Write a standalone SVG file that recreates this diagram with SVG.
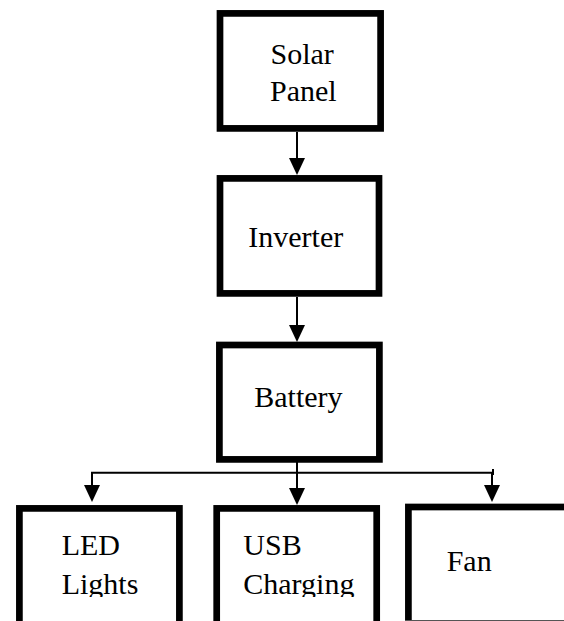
<svg xmlns="http://www.w3.org/2000/svg" width="564" height="621" viewBox="0 0 564 621">
  <style>
    .box { fill: #ffffff; stroke: #000000; stroke-width: 6.7; }
    .lbl { font-family: "Liberation Serif", "DejaVu Serif", serif; font-size: 30px; fill: #000000; }
    .wire { fill: none; stroke: #000000; stroke-width: 2; }
  </style>
  <defs>
    <marker id="arrow" markerUnits="userSpaceOnUse" markerWidth="16" markerHeight="17" viewBox="0 0 16 17" refX="8" refY="17" orient="auto-start-reverse">
      <path d="M0,0 L16,0 L8,17 Z" fill="#000000"/>
    </marker>
    <clipPath id="clipText">
      <rect x="0" y="0" width="564" height="597"/>
    </clipPath>
  </defs>
  <rect x="0" y="0" width="564" height="621" fill="#ffffff"/>

  <g id="connectors">
    <line class="wire" x1="297" y1="132" x2="297" y2="158"/>
    <path d="M289,158 L305,158 L297,175 Z" fill="#000000"/>
    <line class="wire" x1="297" y1="297" x2="297" y2="325"/>
    <path d="M289,325 L305,325 L297,342 Z" fill="#000000"/>
    <line class="wire" x1="297" y1="462" x2="297" y2="488"/>
    <path d="M289,488 L305,488 L297,505 Z" fill="#000000"/>
    <polyline class="wire" points="92,486 92,472.7 493,472.7"/>
    <path d="M84,485 L100,485 L92,502 Z" fill="#000000"/>
    <line class="wire" x1="492" y1="472" x2="492" y2="485"/>
    <line class="wire" x1="493" y1="469" x2="493" y2="475"/>
    <path d="M484,485 L500,485 L492,502 Z" fill="#000000"/>
  </g>

  <g id="node-solar">
    <rect class="box" x="220" y="13.4" width="160.6" height="115"/>
    <text class="lbl" x="270.5" y="63.5">Solar</text>
    <text class="lbl" x="270" y="100.7">Panel</text>
  </g>

  <g id="node-inverter">
    <rect class="box" x="220" y="178.4" width="159" height="115"/>
    <text class="lbl" x="248.3" y="246.7">Inverter</text>
  </g>

  <g id="node-battery">
    <rect class="box" x="219.4" y="345" width="160" height="114.4"/>
    <text class="lbl" x="254.3" y="407.3">Battery</text>
  </g>

  <g id="node-led">
    <rect class="box" x="19.4" y="508.4" width="160" height="200"/>
    <g clip-path="url(#clipText)">
      <text class="lbl" x="61.7" y="555">LED</text>
      <text class="lbl" x="61.7" y="594">Lights</text>
    </g>
  </g>

  <g id="node-usb">
    <rect class="box" x="216.7" y="508.4" width="160" height="200"/>
    <g clip-path="url(#clipText)">
      <text class="lbl" x="243.3" y="554.5">USB</text>
      <text class="lbl" x="243.3" y="594">Charging</text>
    </g>
  </g>

  <g id="node-fan">
    <rect class="box" x="408.4" y="507" width="200" height="200"/>
    <line x1="405" y1="620.5" x2="564" y2="620.5" stroke="#555555" stroke-width="1"/>
    <text class="lbl" x="446.7" y="570.7">Fan</text>
  </g>
</svg>
